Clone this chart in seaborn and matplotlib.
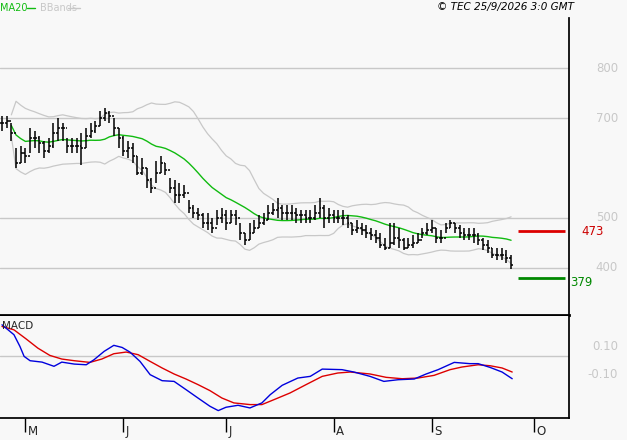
import numpy as np
import pandas as pd
import matplotlib
matplotlib.use("Agg")
import matplotlib.pyplot as plt
import seaborn as sns

sns.set_theme(style="white")
plt.rcParams['font.family'] = ['DejaVu Sans']

close = [690,695,670,610,630,625,660,660,650,635,645,670,680,680,645,645,645,640,665,675,
         685,700,710,705,680,660,635,640,625,590,600,575,560,590,610,595,560,545,545,550,
         520,510,505,490,490,480,500,505,490,505,500,470,455,470,480,
         490,495,510,515,520,510,510,510,505,505,500,500,510,520,500,505,500,500,500,490,
         475,480,475,470,465,460,445,440,450,460,455,440,445,450,455,470,475,480,460,460,
         480,490,480,470,465,465,465,455,445,440,425,425,425,420,405]
high = [705,705,690,640,645,640,680,675,665,655,660,690,700,690,660,660,660,670,680,690,
        695,715,720,715,700,680,665,655,650,625,620,600,580,615,625,610,580,575,570,565,
        535,525,520,510,510,500,515,520,515,515,515,490,470,490,495,
        505,510,525,530,540,525,525,525,520,515,515,515,525,540,525,520,515,515,515,505,
        490,495,490,485,480,475,470,460,490,490,480,460,460,465,470,480,490,495,480,475,
        490,495,490,485,480,480,480,470,460,455,440,440,440,435,425]
low = [675,680,655,600,610,610,630,640,630,620,630,640,655,655,630,630,630,605,640,660,
       670,685,695,690,665,640,625,620,610,585,585,560,550,570,590,585,550,530,530,540,
       510,500,495,480,475,470,485,490,475,490,485,455,445,455,470,
       480,485,495,505,500,495,495,495,490,490,490,490,495,500,480,490,490,490,485,480,
       465,470,465,460,455,450,440,435,440,445,440,435,440,440,450,460,465,470,450,450,
       470,480,470,460,455,455,450,445,435,430,420,415,415,410,398]

macd_pos = [0,2.56,3.84,4.73,6.01,8.57,11.13,12.8,15.46,18.03,19.7,21.87,23.94,25.71,27.38,29.55,
            31.72,34.28,36.84,39.4,41.96,44.52,46.3,47.97,50.53,53.09,55.65,57.43,59.99,63.34,66,
            68.56,72.79,75.35,78.8,81.76,84.81,88.26,90.82,93.38,96.83,100.17,101.95,104.51,107.07,109.24]
macd_val = [0.257,0.186,0.102,0.031,0,-0.01,-0.04,-0.01,-0.024,-0.029,0.007,0.067,0.11,0.095,0.062,
            -0.005,-0.1,-0.143,-0.148,-0.207,-0.267,-0.326,-0.357,-0.333,-0.319,-0.338,-0.302,-0.243,
            -0.176,-0.124,-0.112,-0.06,-0.064,-0.081,-0.112,-0.148,-0.136,-0.131,-0.095,-0.064,-0.012,
            -0.021,-0.021,-0.048,-0.081,-0.129]
sig_pos = [0,2.56,5.12,7.68,10.24,12.8,15.46,18.81,21.37,23.94,26.6,29.16,31.72,34.28,36.84,39.4,
           41.96,44.52,47.08,49.64,53.09,55.65,58.21,61.66,65.11,68.56,71.9,74.56,78.8,82.25,85.7,
           89.04,92.49,95.94,98.5,101.95,104.51,107.07,109.24]
sig_val = [0.245,0.221,0.157,0.09,0.038,0.012,0,-0.012,0.012,0.05,0.062,0.043,-0.005,-0.052,-0.095,
           -0.131,-0.171,-0.214,-0.267,-0.302,-0.314,-0.314,-0.279,-0.231,-0.171,-0.112,-0.088,-0.081,
           -0.095,-0.119,-0.129,-0.124,-0.105,-0.064,-0.045,-0.029,-0.036,-0.052,-0.081]

resistance = 473
support = 379
price_ticks = [400, 500, 700, 800]
macd_ticks = [0.10, -0.10]
macd_labels = ["0.10", "-0.10"]
month_labels = ["M", "J", "J", "A", "S", "O"]

dates = pd.bdate_range("2026-04-24", "2026-10-30")
n = len(close)
idx = np.arange(n)
s = pd.Series(close, dtype=float)
ma = s.rolling(20, min_periods=3).mean()
sd = s.rolling(20, min_periods=3).std(ddof=0)
df = pd.DataFrame({"i": idx, "ma": ma, "up": ma + 2 * sd, "lo": ma - 2 * sd})

bg = "#f8f8f8"
grey = "#c8c8c8"
fig = plt.figure(figsize=(6.27, 4.4), dpi=100, facecolor=bg)
W, H = 627, 440
axp = fig.add_axes([0, 1 - 315 / H, 569 / W, 305 / H], facecolor=bg)
axm = fig.add_axes([0, 1 - 418 / H, 569 / W, 102 / H], facecolor=bg)

xl = (-0.43, 121.4)
for ax in (axp, axm):
    ax.set_xlim(*xl)
    for sp in ax.spines.values():
        sp.set_visible(False)
    ax.tick_params(left=False, labelleft=False, bottom=False, labelbottom=False)

# price panel
axp.set_ylim(305, 917)
for t in price_ticks:
    axp.axhline(t, color=grey, lw=1, zorder=0)
    axp.text(1.086, t, str(t), transform=axp.get_yaxis_transform(), color=grey,
             fontsize=8.5, va="center", ha="right")
sns.lineplot(data=df, x="i", y="up", ax=axp, color=grey, lw=0.9)
sns.lineplot(data=df, x="i", y="lo", ax=axp, color=grey, lw=0.9)
sns.lineplot(data=df, x="i", y="ma", ax=axp, color="#11bb11", lw=1.0)
axp.vlines(idx, low, high, color="black", lw=1.1)
axp.hlines(close, idx, idx + 0.4, color="black", lw=1.1)
prev = [close[0]] + close[:-1]
axp.hlines(prev, idx - 0.4, idx, color="black", lw=1.1)
axp.hlines(resistance, 110.5, 120.5, color="#dd0000", lw=2)
axp.hlines(support, 110.5, 120.5, color="#008800", lw=2)
axp.text(1.022, resistance, str(resistance), transform=axp.get_yaxis_transform(),
         color="#cc0000", fontsize=8.5, va="center")
axp.text(1.002, support - 8, str(support), transform=axp.get_yaxis_transform(),
         color="#008800", fontsize=8.5, va="center")
axp.set_xlabel(""); axp.set_ylabel("")
axp.spines["right"].set_visible(True)
axp.spines["right"].set_color("black")
axp.spines["right"].set_bounds(305, 900)
axp.spines["bottom"].set_visible(True)
axp.spines["bottom"].set_color("black")
axp.spines["bottom"].set_linewidth(2)

fig.text(0.0, 0.993, "MA20", color="#11bb11", fontsize=7, va="top")
fig.add_artist(plt.Line2D([0.043, 0.056], [0.982, 0.982], color="#11bb11", lw=1))
fig.text(0.064, 0.993, "BBands", color=grey, fontsize=7, va="top")
fig.add_artist(plt.Line2D([0.108, 0.128], [0.982, 0.982], color=grey, lw=1))
fig.text(0.915, 0.995, "© TEC 25/9/2026 3:0 GMT", color="black", fontsize=7.5,
         va="top", ha="right", style="italic")

# MACD panel
axm.set_ylim(-0.41, 0.32)
axm.axhline(0.035, color=grey, lw=1, zorder=0)
for t, lab in zip(macd_ticks, macd_labels):
    axm.text(1.086, t, lab, transform=axm.get_yaxis_transform(),
             color=grey, fontsize=8.5, va="center", ha="right")
mdf = pd.DataFrame({"x": macd_pos, "y": macd_val})
sdf = pd.DataFrame({"x": sig_pos, "y": sig_val})
sns.lineplot(data=sdf, x="x", y="y", ax=axm, color="#dd0000", lw=1)
sns.lineplot(data=mdf, x="x", y="y", ax=axm, color="#0000dd", lw=1)
axm.set_xlabel(""); axm.set_ylabel("")
axm.text(0.003, 0.95, "MACD", transform=axm.transAxes, fontsize=7.5, va="top")
for k in ("right", "bottom"):
    axm.spines[k].set_visible(True)
    axm.spines[k].set_color("black")
ms = pd.Series(np.arange(len(dates)), index=dates)
firsts = ms.groupby([dates.year, dates.month]).first().values[1:7]
axm.set_xticks(firsts)
axm.set_xticklabels([""] * len(firsts))
axm.tick_params(bottom=True, direction="out", length=10, width=1, color="black")
for p, lab in zip(firsts, month_labels):
    axm.annotate(lab, xy=(p, 0), xycoords=("data", "axes fraction"),
                 xytext=(1.5, -14.5), textcoords="offset points", fontsize=8.5, va="bottom")

fig.savefig("out.png", dpi=100, facecolor=bg)
